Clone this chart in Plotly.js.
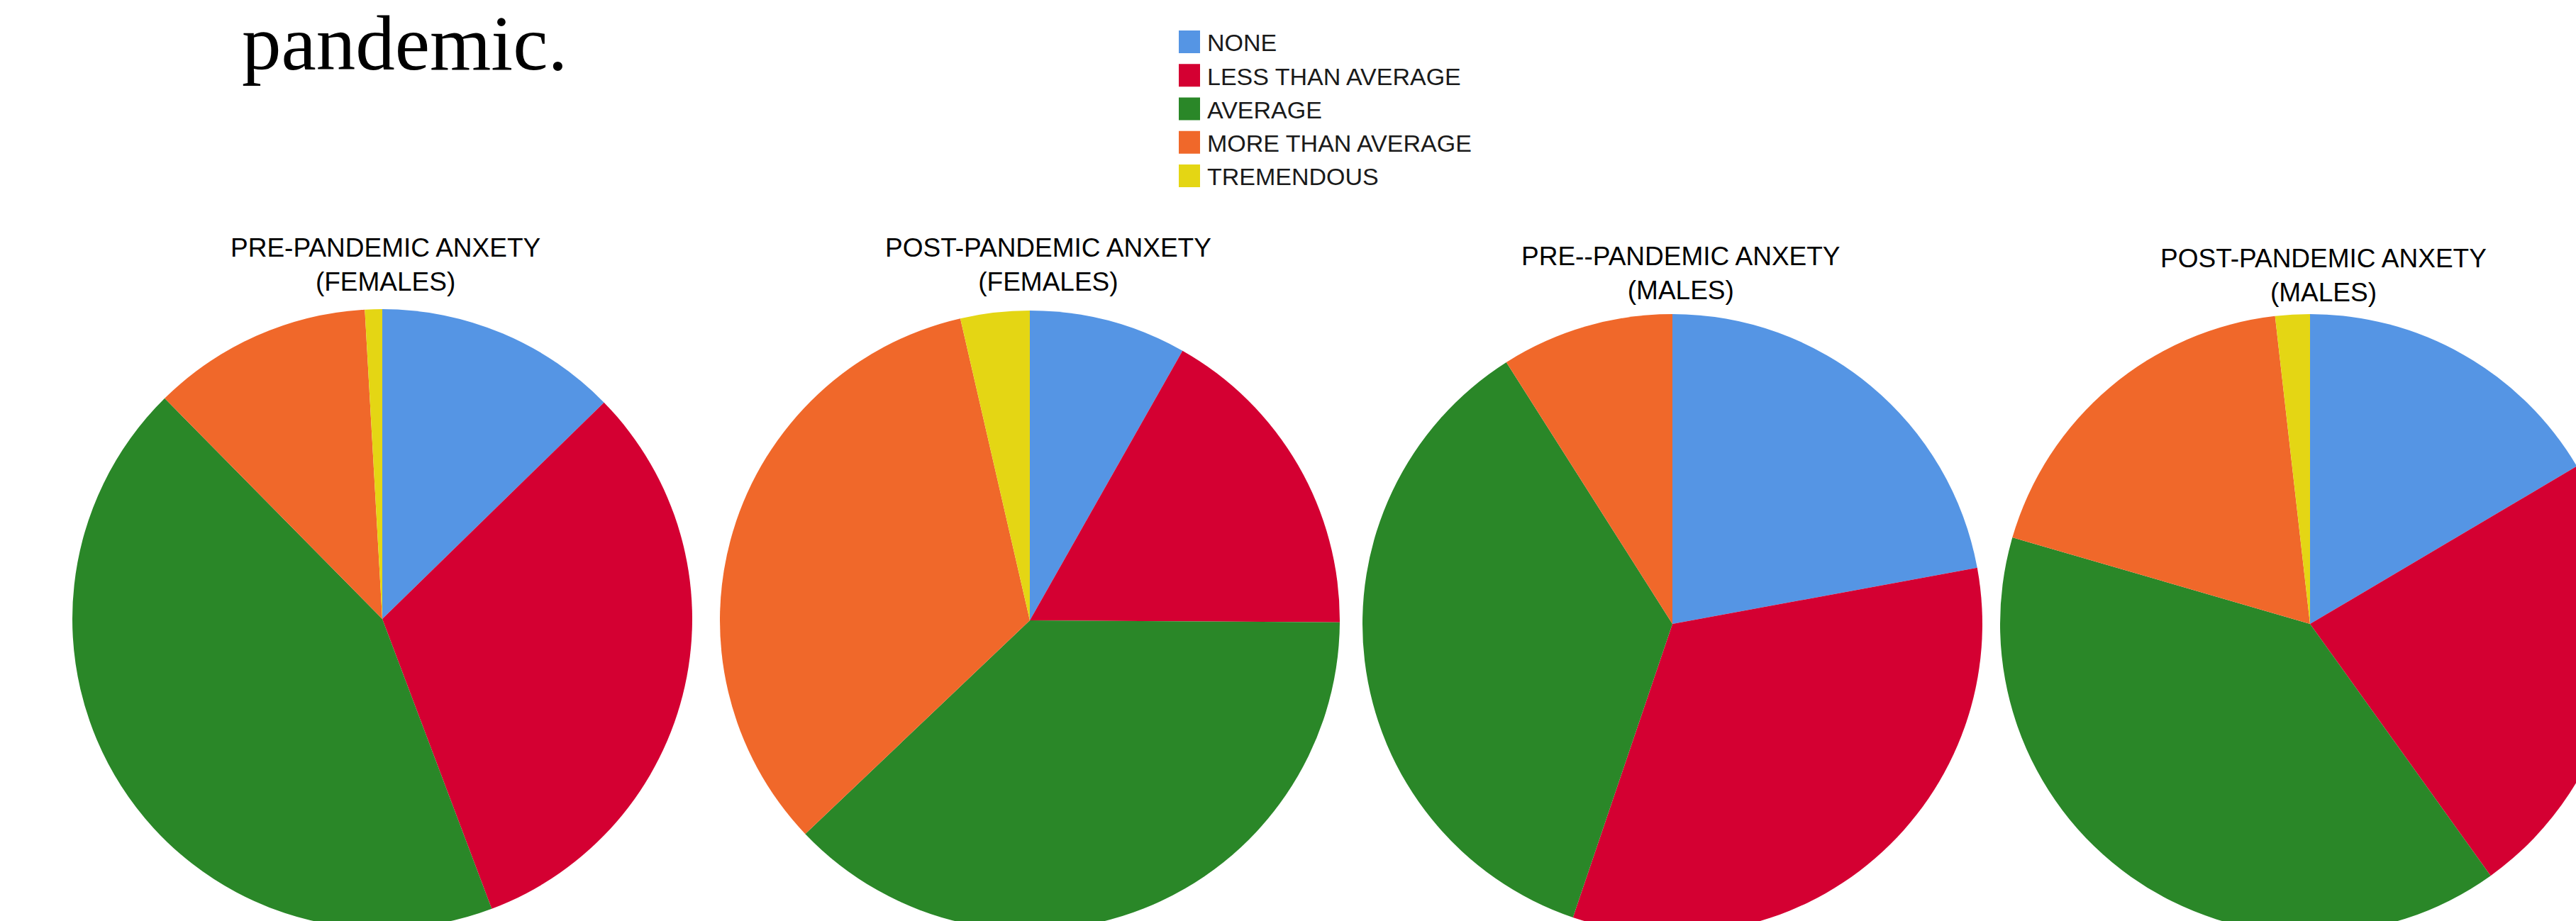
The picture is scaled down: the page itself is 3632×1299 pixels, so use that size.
<!DOCTYPE html>
<html>
<head>
<meta charset="utf-8">
<script src="https://cdn.plot.ly/plotly-3.0.1.min.js"></script>
<style>
html,body{margin:0;padding:0;overflow:hidden;background:#ffffff;width:3632px;height:1299px}
#chart{position:absolute;left:0;top:0}
</style>
</head>
<body>
<div id="chart"></div>
<script>
// ---- data ----
const categories = ['NONE', 'LESS THAN AVERAGE', 'AVERAGE', 'MORE THAN AVERAGE', 'TREMENDOUS'];
const preFemales  = [12.7, 31.6, 43.4, 11.5, 0.9];
const postFemales = [8.2, 16.9, 37.8, 33.5, 3.6];
const preMales    = [22.1, 33.1, 35.8, 9.0, 0];
const postMales   = [16.5, 23.6, 39.4, 18.7, 1.8];
const chartTitles = [
  'PRE-PANDEMIC ANXETY<br>(FEMALES)',
  'POST-PANDEMIC ANXETY<br>(FEMALES)',
  'PRE--PANDEMIC ANXETY<br>(MALES)',
  'POST-PANDEMIC ANXETY<br>(MALES)'
];
const headingText = 'pandemic.';

// ---- styles / layout ----
const sliceColors = ['#5595e4', '#d40032', '#2a8728', '#f0682a', '#e4d614'];
const W = 3720, H = 1330;           // paper a bit larger than the window: pies are cut off
const R = 437;
const pieCenters = [[539, 873], [1452, 875], [2358, 880], [3257, 880]];
const titleCenters = [[543, 373], [1478, 373], [2370, 386], [3276, 388]];

function domainFor(c) {
  return {
    x: [(c[0] - R) / W, (c[0] + R) / W],
    y: [1 - (c[1] + R) / H, 1 - (c[1] - R) / H]
  };
}

const seriesList = [preFemales, postFemales, preMales, postMales];
const data = seriesList.map((vals, i) => ({
  type: 'pie',
  labels: categories,
  values: vals,
  marker: {colors: sliceColors, line: {width: 0}},
  sort: false,
  direction: 'clockwise',
  rotation: 0,
  textinfo: 'none',
  hoverinfo: 'label+percent',
  domain: domainFor(pieCenters[i]),
  showlegend: true
}));

const annotations = [{
  text: headingText,
  xref: 'paper', yref: 'paper',
  x: 339 / W, y: 1 - 60 / H,
  xanchor: 'left', yanchor: 'middle',
  showarrow: false,
  font: {family: '"Liberation Serif", "Times New Roman", serif', size: 111, color: '#000000'}
}].concat(chartTitles.map((t, i) => ({
  text: t,
  xref: 'paper', yref: 'paper',
  x: titleCenters[i][0] / W, y: 1 - titleCenters[i][1] / H,
  xanchor: 'center', yanchor: 'middle',
  showarrow: false,
  font: {family: '"Liberation Sans", Arial, sans-serif', size: 37, color: '#000000'}
})));

const layout = {
  width: W, height: H,
  margin: {l: 0, r: 0, t: 0, b: 0, pad: 0},
  paper_bgcolor: '#ffffff',
  plot_bgcolor: '#ffffff',
  showlegend: true,
  legend: {
    x: 1662 / W, y: 1 - 30.5 / H,
    xanchor: 'left', yanchor: 'top',
    orientation: 'v',
    traceorder: 'normal',
    bgcolor: 'rgba(0,0,0,0)',
    font: {family: '"Liberation Sans", Arial, sans-serif', size: 34, color: '#1a1a1a'}
  },
  annotations: annotations
};

Plotly.newPlot('chart', data, layout, {staticPlot: true, displayModeBar: false}).then(gd => {
  // bigger square legend swatches, slightly left of the default spot
  gd.querySelectorAll('.legend .legendpoints path').forEach(p => {
    p.setAttribute('d', 'M10,16H-22V-16H10Z');
  });
});
</script>
</body>
</html>
